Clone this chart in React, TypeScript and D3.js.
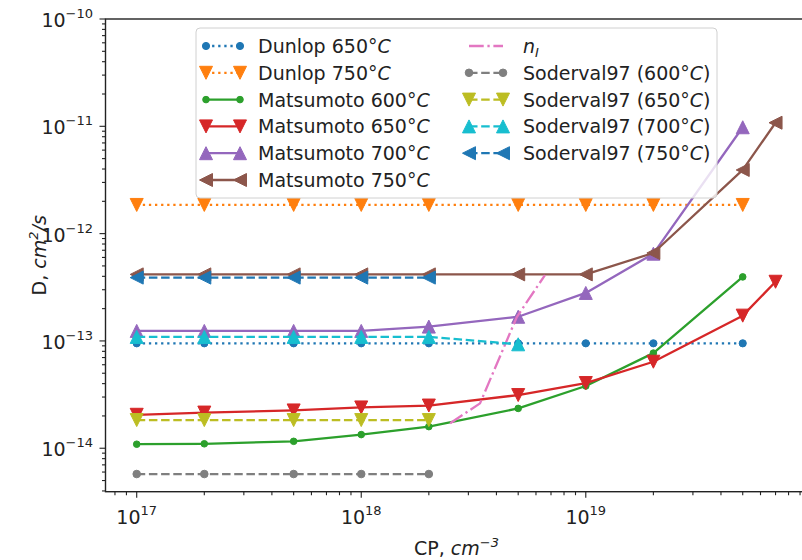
import React, { useEffect, useRef } from 'react';
import * as d3 from 'd3';

// CP values (cm^-3) for each series
const cpAll = [1e17, 2e17, 5e17, 1e18, 2e18, 5e18, 1e19, 2e19, 5e19];
const cpExt = [1e17, 2e17, 5e17, 1e18, 2e18, 5e18, 1e19, 2e19, 5e19, 7e19];
const cpLow = [1e17, 2e17, 5e17, 1e18, 2e18];
const cpLow6 = [1e17, 2e17, 5e17, 1e18, 2e18, 5e18];

// diffusivities (cm^2/s)
const dunlop650 = [9.5e-14, 9.5e-14, 9.5e-14, 9.5e-14, 9.5e-14, 9.5e-14, 9.5e-14, 9.5e-14, 9.5e-14];
const dunlop750 = [1.85e-12, 1.85e-12, 1.85e-12, 1.85e-12, 1.85e-12, 1.85e-12, 1.85e-12, 1.85e-12, 1.85e-12];
const matsumoto600 = [1.09e-14, 1.1e-14, 1.16e-14, 1.34e-14, 1.59e-14, 2.35e-14, 3.8e-14, 7.7e-14, 3.95e-13];
const matsumoto650 = [2.05e-14, 2.15e-14, 2.25e-14, 2.4e-14, 2.5e-14, 3.13e-14, 4.05e-14, 6.4e-14, 1.72e-13, 3.56e-13];
const matsumoto700 = [1.24e-13, 1.24e-13, 1.24e-13, 1.24e-13, 1.36e-13, 1.68e-13, 2.8e-13, 6.5e-13, 9.8e-12];
const matsumoto750 = [4.17e-13, 4.17e-13, 4.17e-13, 4.17e-13, 4.17e-13, 4.17e-13, 4.17e-13, 6.6e-13, 3.92e-12, 1.08e-11];
const niCP = [2.49e18, 3.38e18, 4.93e18, 6.58e18];
const niD = [1.71e-14, 2.62e-14, 1.67e-13, 4.11e-13];
const soderval600 = [5.75e-15, 5.75e-15, 5.75e-15, 5.75e-15, 5.75e-15];
const soderval650 = [1.83e-14, 1.83e-14, 1.83e-14, 1.83e-14, 1.83e-14];
const soderval700 = [1.09e-13, 1.09e-13, 1.09e-13, 1.09e-13, 1.09e-13, 9.3e-14];
const soderval750 = [3.89e-13, 3.89e-13, 3.89e-13, 3.89e-13, 3.89e-13];

const xMajor = [1e17, 1e18, 1e19];
const xMajorExp = ['17', '18', '19'];
const yMajor = [1e-10, 1e-11, 1e-12, 1e-13, 1e-14];
const yMajorExp = ['\u221210', '\u221211', '\u221212', '\u221213', '\u221214'];

const LW = 2.3;
const dashes = {
  solid: null,
  dotted: `${LW} ${LW * 1.65}`,
  dashed: `${LW * 3.7} ${LW * 1.6}`,
  dashdot: `${LW * 6.4} ${LW * 1.6} ${LW} ${LW * 1.6}`,
};

const series = [
  { label: 'Dunlop 650°C', x: cpAll, y: dunlop650, color: '#1f77b4', dash: 'dotted', marker: 'o', size: 3.6 },
  { label: 'Dunlop 750°C', x: cpAll, y: dunlop750, color: '#ff7f0e', dash: 'dotted', marker: 'v', size: 6.5 },
  { label: 'Matsumoto 600°C', x: cpAll, y: matsumoto600, color: '#2ca02c', dash: 'solid', marker: 'o', size: 3.3 },
  { label: 'Matsumoto 650°C', x: cpExt, y: matsumoto650, color: '#d62728', dash: 'solid', marker: 'v', size: 6.5 },
  { label: 'Matsumoto 700°C', x: cpAll, y: matsumoto700, color: '#9467bd', dash: 'solid', marker: '^', size: 6.5 },
  { label: 'Matsumoto 750°C', x: cpExt, y: matsumoto750, color: '#8c564b', dash: 'solid', marker: '<', size: 6.5 },
  { label: 'n_I', x: niCP, y: niD, color: '#e377c2', dash: 'dashdot', marker: null, size: 0 },
  { label: 'Soderval97 (600°C)', x: cpLow, y: soderval600, color: '#7f7f7f', dash: 'dashed', marker: 'o', size: 3.8 },
  { label: 'Soderval97 (650°C)', x: cpLow, y: soderval650, color: '#bcbd22', dash: 'dashed', marker: 'v', size: 6.5 },
  { label: 'Soderval97 (700°C)', x: cpLow6, y: soderval700, color: '#17becf', dash: 'dashed', marker: '^', size: 6.5 },
  { label: 'Soderval97 (750°C)', x: cpLow, y: soderval750, color: '#1f77b4', dash: 'dashed', marker: '<', size: 6.5 },
];

const W = 802;
const H = 560;
const left = 105.5, right = 807.4, top = 19, bottom = 491.7;
const FONT = 'DejaVu Sans, sans-serif';

function markerPath(m, s) {
  if (m === 'v') return `M0,${s}L${-s},${-s}L${s},${-s}Z`;
  if (m === '^') return `M0,${-s}L${-s},${s}L${s},${s}Z`;
  if (m === '<') return `M${-s},0L${s},${-s}L${s},${s}Z`;
  return d3.symbol(d3.symbolCircle, Math.PI * s * s)();
}

function drawMarker(g, m, s, cx, cy, color) {
  g.append('path')
    .attr('d', markerPath(m, s))
    .attr('transform', `translate(${cx},${cy})`)
    .attr('fill', color)
    .attr('stroke', color)
    .attr('stroke-width', 1);
}

const Chart = () => {
  const svgRef = useRef(null);

  useEffect(() => {
    const svg = d3.select(svgRef.current);
    svg.selectAll('*').remove();

    const x = d3.scaleLog().domain([10 ** 16.861, 10 ** 19.987]).range([left, right]);
    const y = d3.scaleLog().domain([10 ** -14.405, 1e-10]).range([bottom, top]);

    svg.append('defs').append('clipPath').attr('id', 'plotclip')
      .append('rect').attr('x', left).attr('y', top).attr('width', right - left).attr('height', bottom - top);

    const plot = svg.append('g').attr('clip-path', 'url(#plotclip)');

    series.forEach(s => {
      const pts = s.x.map((v, i) => [x(v), y(s.y[i])]);
      plot.append('path')
        .attr('d', d3.line()(pts))
        .attr('fill', 'none')
        .attr('stroke', s.color)
        .attr('stroke-width', LW)
        .attr('stroke-dasharray', dashes[s.dash])
        .attr('stroke-linejoin', 'round');
      if (s.marker) pts.forEach(p => drawMarker(plot, s.marker, s.size, p[0], p[1], s.color));
    });

    // ticks
    const axis = svg.append('g').attr('stroke', '#222').attr('stroke-width', 1.1);
    const [x0, x1] = x.domain();
    for (let e = 16; e <= 19; e++) {
      for (let k = 1; k <= 9; k++) {
        const v = k * 10 ** e;
        if (v < x0 || v > x1) continue;
        const len = k === 1 ? 6 : 3.5;
        axis.append('line').attr('x1', x(v)).attr('x2', x(v)).attr('y1', bottom).attr('y2', bottom + len);
      }
    }
    const [y0, y1] = y.domain();
    for (let e = -15; e <= -10; e++) {
      for (let k = 1; k <= 9; k++) {
        const v = k * 10 ** e;
        if (v < y0 * 0.999 || v > y1 * 1.001) continue;
        const len = k === 1 ? 6 : 3.5;
        axis.append('line').attr('y1', y(v)).attr('y2', y(v)).attr('x1', left).attr('x2', left - len);
      }
    }

    // spines
    svg.append('rect')
      .attr('x', left).attr('y', top).attr('width', right - left).attr('height', bottom - top)
      .attr('fill', 'none').attr('stroke', '#222').attr('stroke-width', 1.4);

    const txt = svg.append('g').attr('font-family', FONT).attr('fill', '#222');

    xMajor.forEach((v, i) => {
      const t = txt.append('text').attr('x', x(v)).attr('y', 524).attr('text-anchor', 'middle').attr('font-size', 19);
      t.append('tspan').text('10');
      t.append('tspan').attr('dy', -9).attr('font-size', 13).text(xMajorExp[i]);
    });

    yMajor.forEach((v, i) => {
      const t = txt.append('text').attr('x', 93).attr('y', y(v) + 8).attr('text-anchor', 'end').attr('font-size', 19);
      t.append('tspan').text('10');
      t.append('tspan').attr('dy', -9).attr('font-size', 13).text(yMajorExp[i]);
    });

    // axis labels
    const xl = txt.append('text').attr('x', (left + right) / 2).attr('y', 555).attr('text-anchor', 'middle').attr('font-size', 19);
    xl.append('tspan').text('CP, ');
    xl.append('tspan').attr('font-style', 'italic').text('cm');
    xl.append('tspan').attr('dy', -8).attr('font-size', 13).attr('font-style', 'italic').text('\u22123');

    const yl = txt.append('text').attr('transform', `translate(46,${(top + bottom) / 2}) rotate(-90)`)
      .attr('text-anchor', 'middle').attr('font-size', 19);
    yl.append('tspan').text('D, ');
    yl.append('tspan').attr('font-style', 'italic').text('cm');
    yl.append('tspan').attr('dy', -8).attr('font-size', 13).attr('font-style', 'italic').text('2');
    yl.append('tspan').attr('dy', 8).attr('font-style', 'italic').text('/s');

    // legend
    const lg = svg.append('g');
    lg.append('rect')
      .attr('x', 196).attr('y', 28).attr('width', 521).attr('height', 170).attr('rx', 4)
      .attr('fill', 'white').attr('fill-opacity', 0.8).attr('stroke', '#d0d0d0').attr('stroke-width', 1);

    series.forEach((s, i) => {
      const col = i < 6 ? 0 : 1;
      const row = i < 6 ? i : i - 6;
      const ry = 46 + row * 26.8;
      const hx0 = col === 0 ? 206 : 469;
      const hx1 = hx0 + 34;
      const tx = col === 0 ? 258 : 523;
      lg.append('line')
        .attr('x1', hx0).attr('x2', hx1).attr('y1', ry).attr('y2', ry)
        .attr('stroke', s.color).attr('stroke-width', LW).attr('stroke-dasharray', dashes[s.dash]);
      if (s.marker) {
        drawMarker(lg, s.marker, s.size, hx0, ry, s.color);
        drawMarker(lg, s.marker, s.size, hx1, ry, s.color);
      }
      const t = lg.append('text').attr('x', tx).attr('y', ry + 7).attr('font-family', FONT)
        .attr('font-size', 19).attr('fill', '#222');
      if (s.label === 'n_I') {
        t.append('tspan').attr('font-style', 'italic').text('n');
        t.append('tspan').attr('dy', 4).attr('font-size', 13).attr('font-style', 'italic').text('I');
      } else {
        const c = s.label.lastIndexOf('C');
        t.append('tspan').text(s.label.slice(0, c));
        t.append('tspan').attr('font-style', 'italic').text('C');
        t.append('tspan').text(s.label.slice(c + 1));
      }
    });
  }, []);

  return <svg ref={svgRef} width={W} height={H} style={{ position: 'absolute', left: 0, top: 0, background: 'white' }}></svg>;
};

export default function App() {
  return <Chart />;
}
